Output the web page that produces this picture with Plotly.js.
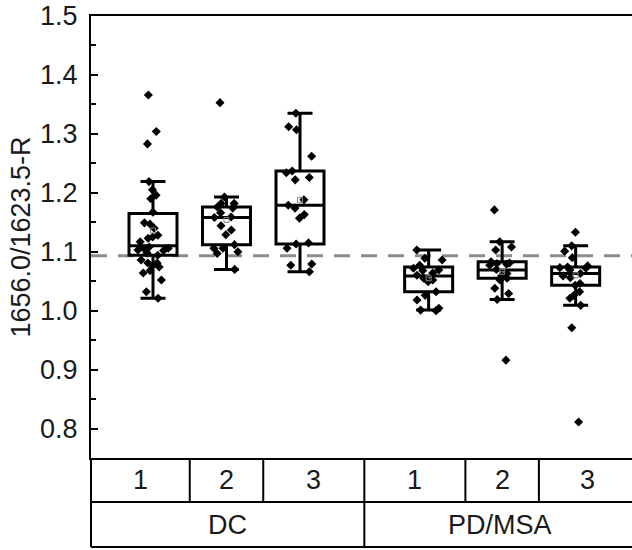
<!DOCTYPE html>
<html>
<head>
<meta charset="utf-8">
<script src="https://cdn.plot.ly/plotly-3.0.1.min.js"></script>
<style>html,body{margin:0;padding:0;overflow:hidden;background:#fff}</style>
</head>
<body>
<div id="chart"></div>
<script>
// ---- data ----
const groups = ['DC', 'PD/MSA'];
const subgroups = ['1', '2', '3'];

const dc1 = [1.366, 1.304, 1.283, 1.219, 1.205, 1.196, 1.190, 1.167, 1.149, 1.147, 1.140, 1.128, 1.125, 1.123, 1.117, 1.108, 1.106, 1.106, 1.103, 1.102, 1.098, 1.094, 1.086, 1.081, 1.081, 1.077, 1.074, 1.068, 1.064, 1.052, 1.032, 1.021];
const dc2 = [1.353, 1.193, 1.182, 1.182, 1.176, 1.174, 1.166, 1.159, 1.158, 1.144, 1.137, 1.129, 1.112, 1.106, 1.106, 1.100, 1.097, 1.070];
const dc3 = [1.335, 1.312, 1.307, 1.262, 1.237, 1.234, 1.226, 1.222, 1.188, 1.179, 1.174, 1.163, 1.157, 1.115, 1.113, 1.106, 1.079, 1.077, 1.066];
const pd1 = [1.103, 1.089, 1.086, 1.077, 1.072, 1.069, 1.068, 1.064, 1.060, 1.055, 1.052, 1.049, 1.032, 1.026, 1.018, 1.004, 1.001, 1.000];
const pd2 = [1.171, 1.117, 1.108, 1.103, 1.083, 1.081, 1.080, 1.079, 1.077, 1.070, 1.063, 1.059, 1.055, 1.052, 1.038, 1.029, 1.019, 0.916];
const pd3 = [1.133, 1.110, 1.101, 1.090, 1.076, 1.074, 1.073, 1.072, 1.069, 1.063, 1.059, 1.056, 1.046, 1.043, 1.032, 1.026, 1.021, 1.009, 0.971, 0.811];

const q1Vals     = [1.094, 1.112, 1.113, 1.032, 1.055, 1.043];
const medianVals = [1.110, 1.158, 1.179, 1.059, 1.069, 1.063];
const q3Vals     = [1.165, 1.176, 1.237, 1.074, 1.083, 1.074];
const lowVals    = [1.021, 1.070, 1.066, 1.001, 1.019, 1.009];
const highVals   = [1.219, 1.193, 1.335, 1.103, 1.117, 1.110];
const meanVals   = [1.136, 1.154, 1.188, 1.055, 1.066, 1.060];
const refLine = 1.093;

const yTitle = '1656.0/1623.5-R';
const series = [dc1, dc2, dc3, pd1, pd2, pd3];

// ---- layout helpers ----
const groupGap = 0.75;
const positions = [];
groups.forEach((g, gi) => subgroups.forEach((s, si) => positions.push(1 + gi * (subgroups.length + groupGap) + si)));
const xr = [0.1565, 7.571];
const toPaper = x => (x - xr[0]) / (xr[1] - xr[0]);
const boxW = 0.653;
const FONT = 'Liberation Sans, Arial, sans-serif';
const TXT = '#1a1a1a';

const traces = [];
// boxes from precomputed stats
traces.push({
  type: 'box', x: positions, q1: q1Vals, median: medianVals, q3: q3Vals,
  lowerfence: lowVals, upperfence: highVals,
  boxpoints: false, width: boxW, whiskerwidth: 0.52,
  line: {color: '#000', width: 3}, fillcolor: '#fff',
  hoverinfo: 'skip', showlegend: false
});
// points
series.forEach((vals, i) => {
  traces.push({
    type: 'box', y: vals, x0: positions[i], width: boxW,
    boxpoints: 'all', jitter: 0.75, pointpos: 0,
    line: {color: 'rgba(0,0,0,0)', width: 0}, fillcolor: 'rgba(0,0,0,0)', whiskerwidth: 0,
    marker: {symbol: 'diamond', size: 7, color: '#000'},
    showlegend: false, hoverinfo: 'y'
  });
});
// means
traces.push({
  type: 'scatter', mode: 'markers', x: positions, y: meanVals,
  marker: {symbol: 'square-open', size: 5, color: '#888', line: {width: 1, color: '#888'}},
  showlegend: false, hoverinfo: 'y'
});

// table
const shapes = [];
const annotations = [];
const rowTop = 0, rowMid = -44 / 442, rowBot = -89 / 442;
const lineStyle = {color: '#000', width: 2};
shapes.push({type: 'line', xref: 'paper', yref: 'paper', x0: 0, x1: 1.02, y0: rowMid, y1: rowMid, line: lineStyle});
shapes.push({type: 'line', xref: 'paper', yref: 'paper', x0: 0, x1: 1.02, y0: rowBot, y1: rowBot, line: lineStyle});
shapes.push({type: 'line', xref: 'paper', yref: 'paper', x0: 0, x1: 0, y0: rowTop, y1: rowBot, line: lineStyle});
const edges = [xr[0]];
for (let i = 0; i < positions.length - 1; i++) edges.push((positions[i] + positions[i + 1]) / 2);
edges.push(xr[1]);
for (let i = 1; i < edges.length - 1; i++) {
  const isGroupEdge = i % subgroups.length === 0;
  shapes.push({type: 'line', xref: 'paper', yref: 'paper', x0: toPaper(edges[i]), x1: toPaper(edges[i]),
    y0: rowTop, y1: isGroupEdge ? rowBot : rowMid, line: lineStyle});
}
positions.forEach((p, i) => {
  annotations.push({xref: 'paper', yref: 'paper', x: toPaper((edges[i] + edges[i + 1]) / 2), y: (rowTop + rowMid) / 2,
    text: subgroups[i % subgroups.length], showarrow: false, xanchor: 'center', yanchor: 'middle',
    font: {family: FONT, size: 27, color: TXT}});
});
groups.forEach((g, gi) => {
  const a = edges[gi * subgroups.length], b = edges[(gi + 1) * subgroups.length];
  annotations.push({xref: 'paper', yref: 'paper', x: toPaper((a + b) / 2), y: (rowMid + rowBot) / 2,
    text: g, showarrow: false, xanchor: 'center', yanchor: 'middle',
    font: {family: FONT, size: 27, color: TXT}});
});
// reference dashed line
shapes.push({type: 'line', xref: 'paper', yref: 'y', x0: 0, x1: 1, y0: refLine, y1: refLine,
  line: {color: '#8c8c8c', width: 3, dash: '16px,11px'}, layer: 'below'});

const layout = {
  width: 640, height: 550,
  margin: {l: 91, r: 4, t: 16, b: 92},
  paper_bgcolor: '#fff', plot_bgcolor: '#fff',
  font: {family: FONT, color: TXT},
  boxmode: 'overlay', showlegend: false,
  xaxis: {range: xr, showline: true, mirror: true, linewidth: 2, linecolor: '#000',
    showticklabels: false, ticks: '', showgrid: false, zeroline: false, fixedrange: true},
  yaxis: {range: [0.75, 1.5], tick0: 0.8, dtick: 0.1, tickformat: '.1f',
    ticks: 'inside', ticklen: 7, tickwidth: 2, tickcolor: '#000',
    minor: {dtick: 0.05, ticks: 'inside', ticklen: 5, tickwidth: 2, tickcolor: '#000'},
    showline: true, linewidth: 2, linecolor: '#000', showgrid: false, zeroline: false,
    tickfont: {family: FONT, size: 27, color: TXT}, ticklabelstandoff: 6,
    title: {text: yTitle, font: {family: FONT, size: 27, color: TXT}, standoff: 2}},
  yaxis2: {range: [0.75, 1.5], tick0: 0.8, dtick: 0.1, overlaying: 'y', side: 'right',
    ticks: 'inside', ticklen: 7, tickwidth: 2, tickcolor: '#000', showticklabels: false,
    showline: true, linewidth: 2, linecolor: '#000', showgrid: false, zeroline: false},
  shapes: shapes, annotations: annotations
};

Plotly.newPlot('chart', traces, layout, {displayModeBar: false, staticPlot: true});
</script>
</body>
</html>
